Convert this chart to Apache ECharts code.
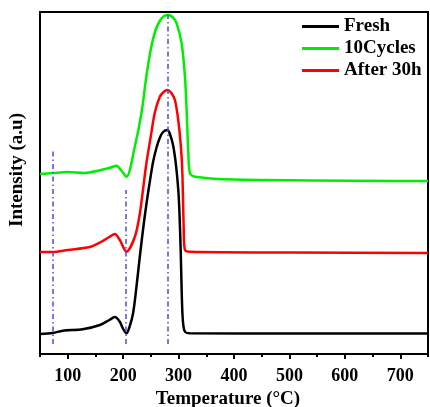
<!DOCTYPE html>
<html>
<head>
<meta charset="utf-8">
<script src="https://cdn.jsdelivr.net/npm/echarts@6/dist/echarts.min.js"></script>
<style>html,body{margin:0;padding:0;background:#fff;}#c{width:430px;height:407px;}</style>
</head>
<body>
<div id="c"></div>
<script>
// Temperature (°C) values for each curve
const freshT = [50,73,91,127,158,175,185,194,200,206,212,218,224,230,236,242,248,254,260,266,272,280,285,290,294,297,300,302,304,305.5,307,309,312,320,500,750];
const freshY = [20,21,23.3,24.7,29,34,37,32.3,25,20.7,28,41,67,97,125,150,172,192,206,216,222,224,219,209,195,180,160,135,100,65,40,27,22,20.7,20.5,20.5];

const cyclesT = [50,73,100,130,160,175,188,196,206,221,233,242,250,258,266,274,281,289,296.5,305.5,311.5,314.5,317.4,320.5,329.5,400,750];
const cyclesY = [180,181,182,181,184,186,188.3,184,177.3,207.3,240.7,278,305,323,333,338,339,337,330.7,310.7,277.3,244,204,180.7,177.3,174.5,173];

const afterT = [50,73,100,140,160,175,185,194,206,221,230,236,242,250,257,266,273,280,287,293.4,299.4,304.2,307,309.4,311.5,320.5,500,750];
const afterY = [102,102,104,107,112,117,120,114,102.3,117,140,165,191,218,241,257,262,264,261,254,234,207.3,179,121,104,102.3,101.5,101];

const seriesNames = ['Fresh','10Cycles','After 30h'];
const xTickLabels = [100,200,300,400,500,600,700];
const xMinorTicks = [50,150,250,350,450,550,650,750];

// vertical dash-dot guide lines
const vlineX = [73, 205, 281];
const vlineTop = [204, 164, 339];
const vlineBottom = 10;

function pairs(xs, ys){ return xs.map((x,i)=>[x, ys[i]]); }

const chart = echarts.init(document.getElementById('c'), null, {renderer:'canvas'});
const serif = '"Liberation Serif","Times New Roman",serif';
const lineBase = {type:'line', showSymbol:false, smooth:0.3, lineStyle:{width:2.5}};

chart.setOption({
  animation:false,
  backgroundColor:'#fff',
  grid:{left:40, right:2, top:12, bottom:53, show:true, borderColor:'#000', borderWidth:2, backgroundColor:'transparent', containLabel:false, outerBoundsMode:'none'},
  legend:{
    orient:'vertical', left:297, top:12, itemWidth:37, itemHeight:3, itemGap:3, icon:'rect',
    data:seriesNames,
    textStyle:{fontFamily:serif, fontWeight:'bold', fontSize:19, color:'#000'}
  },
  xAxis:[{
    type:'value', min:50, max:750,
    axisLine:{show:true, lineStyle:{color:'#000', width:2}},
    axisTick:{show:true, customValues:xTickLabels, length:5, lineStyle:{color:'#000', width:2}},
    axisLabel:{customValues:xTickLabels, fontFamily:serif, fontWeight:'bold', fontSize:18, color:'#000', margin:13},
    splitLine:{show:false},
    name:'Temperature (\u00B0C)', nameLocation:'middle', nameGap:33,
    nameTextStyle:{fontFamily:serif, fontWeight:'bold', fontSize:19, color:'#000', padding:[0,12,0,0]}
  },{
    type:'value', min:50, max:750, position:'bottom',
    axisLine:{show:false},
    axisTick:{show:true, customValues:xMinorTicks, length:3, lineStyle:{color:'#000', width:2}},
    axisLabel:{show:false}, splitLine:{show:false}
  }],
  yAxis:{
    type:'value', min:0, max:342,
    axisLine:{show:true, lineStyle:{color:'#000', width:2}},
    axisTick:{show:false}, axisLabel:{show:false}, splitLine:{show:false}
  },
  graphic:[{
    type:'text', x:17, y:170, rotation:Math.PI/2,
    style:{text:'Intensity (a.u)', fontFamily:serif, fontWeight:'bold', fontSize:19, fill:'#000', textAlign:'center', textVerticalAlign:'middle'}
  }],
  series:[
    Object.assign({}, lineBase, {name:seriesNames[0], data:pairs(freshT, freshY), color:'#000000', z:3,
      markLine:{
        silent:true, symbol:'none', label:{show:false},
        lineStyle:{color:'#4a4ae8', width:1.5, type:[5,3,1.5,3]},
        data: vlineX.map((x,i)=>[{coord:[x, vlineBottom]},{coord:[x, vlineTop[i]]}])
      }}),
    Object.assign({}, lineBase, {name:seriesNames[1], data:pairs(cyclesT, cyclesY), color:'#00ee00', z:2}),
    Object.assign({}, lineBase, {name:seriesNames[2], data:pairs(afterT, afterY), color:'#ff0000', z:2})
  ]
});
</script>
</body>
</html>
